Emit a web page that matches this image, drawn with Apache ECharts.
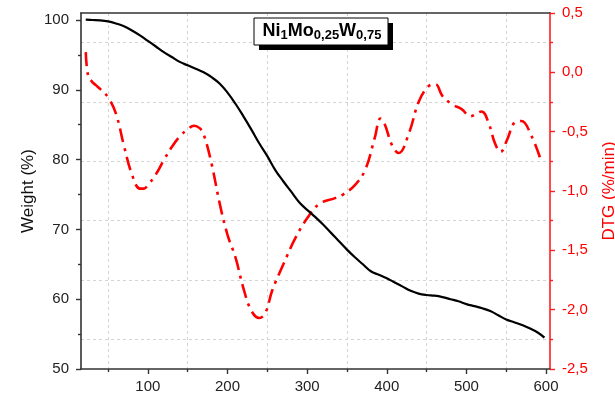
<!DOCTYPE html>
<html>
<head>
<meta charset="utf-8">
<script src="https://cdn.jsdelivr.net/npm/echarts@6.0.0/dist/echarts.min.js"></script>
<style>
html,body{margin:0;padding:0;background:#fff;}
#chart{width:615px;height:407px;}
</style>
</head>
<body>
<div id="chart"></div>
<script>
// ---- Data ----
const weightTemp = [22,30,40,50,60,70,80,90,100,110,120,130,140,150,160,170,180,190,200,210,220,230,240,250,260,270,280,290,300,310,320,330,340,350,360,370,380,390,400,410,420,430,440,450,460,470,480,490,500,510,520,530,540,550,560,570,580,590,598];
const weightVals = [100.05,100.0,99.95,99.8,99.5,99.1,98.5,97.8,97.0,96.2,95.4,94.7,94.0,93.5,93.0,92.5,91.8,90.9,89.6,88.0,86.2,84.3,82.3,80.5,78.5,76.9,75.4,73.9,72.8,71.8,70.7,69.5,68.3,67.1,66.0,65.0,64.0,63.5,63.0,62.4,61.8,61.2,60.8,60.6,60.5,60.3,60.0,59.7,59.3,59.0,58.7,58.3,57.7,57.1,56.7,56.3,55.8,55.2,54.5];

const dtgTemp = [22,25,30,35,40,50,60,70,80,90,95,100,110,120,130,140,150,158,165,170,180,190,200,210,220,230,240,248,256,270,285,300,315,335,345,360,373,385,392,397,407,415,428,440,452,461,470,482,494,505,519,528,536,543,551,561,569,582,594];
const dtgVals = [0.17,-0.03,-0.08,-0.11,-0.14,-0.21,-0.35,-0.62,-0.86,-0.98,-0.98,-0.95,-0.86,-0.74,-0.63,-0.54,-0.48,-0.45,-0.47,-0.52,-0.77,-1.10,-1.37,-1.56,-1.82,-2.01,-2.07,-2.02,-1.84,-1.62,-1.40,-1.23,-1.11,-1.06,-1.03,-0.95,-0.82,-0.55,-0.39,-0.43,-0.62,-0.68,-0.51,-0.25,-0.12,-0.10,-0.20,-0.27,-0.31,-0.37,-0.33,-0.43,-0.60,-0.67,-0.57,-0.42,-0.41,-0.54,-0.75];

const xMajorTicks = [100,200,300,400,500,600];
const xMinorTicks = [50,150,250,350,450,550];
const yLeftMajorTicks = [50,60,70,80,90,100];
const yLeftMinorTicks = [55,65,75,85,95];

const titleText = '{b|Ni}{s|1}{b|Mo}{s|0,25}{b|W}{s|0,75}';
const leftName = 'Weight (%)';
const rightName = 'DTG (%/min)';

// ---- Chart ----
const FONT = '"Liberation Sans", Arial, sans-serif';
const gridCol = '#d4d4d4';
const chart = echarts.init(document.getElementById('chart'), null, {renderer:'canvas'});

const weightData = weightTemp.map((t,i)=>[t, weightVals[i]]);
const dtgData = dtgTemp.map((t,i)=>[t, dtgVals[i]]);

const option = {
  animation: false,
  backgroundColor: '#fff',
  grid: {left: 81, right: 65, top: 13, bottom: 38, containLabel: false, outerBoundsMode: 'none'},
  xAxis: [
    {
      type: 'value', position: 'bottom', min: 16, max: 605,
      axisLine: {show: true, onZero: false, lineStyle: {color: '#333', width: 1.6}},
      axisTick: {show: true, length: 5, customValues: xMajorTicks, lineStyle: {color: '#333', width: 1.4}},
      axisLabel: {show: true, customValues: xMajorTicks, fontSize: 15, color: '#222', margin: 10, fontFamily: FONT},
      splitLine: {show: false}
    },
    {
      type: 'value', position: 'bottom', min: 16, max: 605,
      axisLine: {show: false, onZero: false},
      axisTick: {show: true, length: 3, customValues: xMinorTicks, lineStyle: {color: '#333', width: 1.4}},
      axisLabel: {show: false},
      splitLine: {show: true, lineStyle: {color: gridCol, type: [3,3], width: 1}}
    },
    {
      type: 'value', position: 'top', min: 16, max: 605,
      axisLine: {show: true, onZero: false, lineStyle: {color: '#333', width: 1.6}},
      axisTick: {show: false}, axisLabel: {show: false}, splitLine: {show: false}
    }
  ],
  yAxis: [
    {
      type: 'value', position: 'left', min: 50, max: 101,
      name: leftName, nameLocation: 'middle', nameGap: 44, nameRotate: 90, nameMoveOverlap: false,
      nameTextStyle: {fontSize: 17, color: '#111', fontFamily: FONT},
      axisLine: {show: true, onZero: false, lineStyle: {color: '#333', width: 1.6}},
      axisTick: {show: true, length: 5, customValues: yLeftMajorTicks, lineStyle: {color: '#333', width: 1.4}},
      axisLabel: {show: true, customValues: yLeftMajorTicks, fontSize: 15, color: '#222', margin: 12, fontFamily: FONT},
      splitLine: {show: false}
    },
    {
      type: 'value', position: 'left', min: 50, max: 101,
      axisLine: {show: false, onZero: false},
      axisTick: {show: true, length: 3, customValues: yLeftMinorTicks, lineStyle: {color: '#333', width: 1.4}},
      axisLabel: {show: false}, splitLine: {show: false}
    },
    {
      type: 'value', position: 'right', min: -2.5, max: 0.5, interval: 0.5,
      name: rightName, nameLocation: 'middle', nameGap: 51, nameRotate: 90, nameMoveOverlap: false,
      nameTextStyle: {fontSize: 17, color: '#ff0000', fontFamily: FONT},
      axisLine: {show: true, onZero: false, lineStyle: {color: '#ff2020', width: 1.6}},
      axisTick: {show: true, length: 5, lineStyle: {color: '#ff2020', width: 1.4}},
      minorTick: {show: true, splitNumber: 2, length: 3, lineStyle: {color: '#ff2020', width: 1.4}},
      minorSplitLine: {show: true, lineStyle: {color: gridCol, type: [3,3], width: 1}},
      axisLabel: {show: true, fontSize: 15, color: '#ff0000', margin: 12, fontFamily: FONT,
        formatter: v => v.toFixed(1).replace('.', ',')},
      splitLine: {show: false}
    }
  ],
  series: [
    {
      type: 'line', name: leftName, xAxisIndex: 0, yAxisIndex: 0,
      data: weightData, smooth: 0.4, showSymbol: false, symbol: 'none',
      lineStyle: {color: '#000', width: 2.2}, z: 3
    },
    {
      type: 'line', name: rightName, xAxisIndex: 0, yAxisIndex: 2,
      data: dtgData, smooth: 0.4, showSymbol: false, symbol: 'none',
      lineStyle: {color: '#ff0000', width: 2.6, type: [14,6,3,6]}, z: 2
    }
  ],
  graphic: [
    {type: 'rect', shape: {x: 259, y: 23, width: 134, height: 27}, style: {fill: '#000'}, z: 10},
    {type: 'rect', shape: {x: 254, y: 18, width: 134, height: 27}, style: {fill: '#fff', stroke: '#000', lineWidth: 1}, z: 11},
    {type: 'text', x: 322, y: 31, z: 12,
      style: {
        text: titleText, align: 'center', verticalAlign: 'middle',
        rich: {
          b: {fontSize: 18, fontWeight: 'bold', fill: '#000', fontFamily: FONT, lineHeight: 20},
          s: {fontSize: 13, fontWeight: 'bold', fill: '#000', fontFamily: FONT, lineHeight: 20, padding: [9,0,0,0]}
        }
      }
    }
  ]
};
chart.setOption(option);
</script>
</body>
</html>
